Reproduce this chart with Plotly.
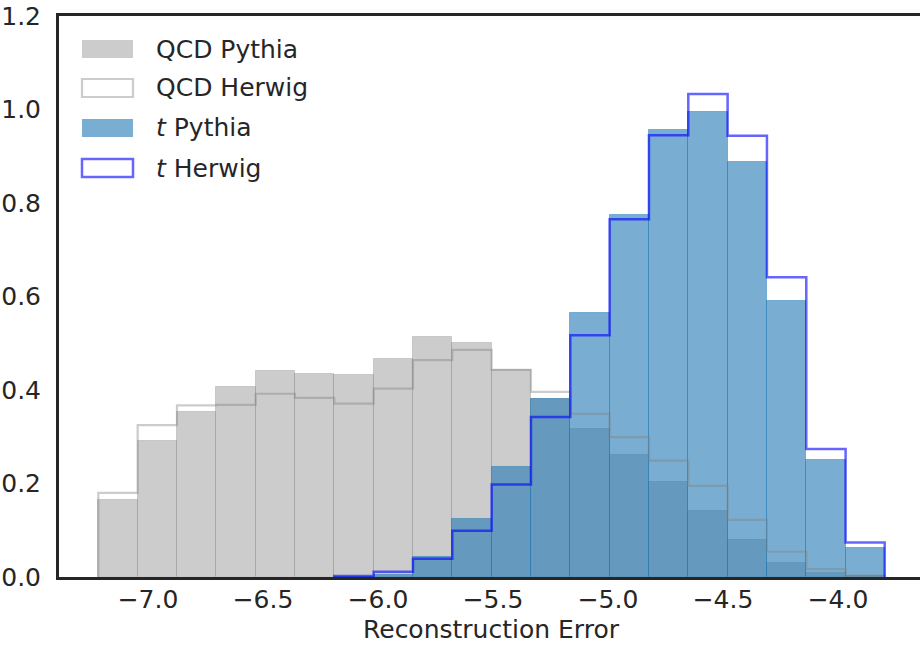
import plotly.graph_objects as go

# ---- data ----
bin_edges = [-7.216, -7.045, -6.874, -6.703, -6.532, -6.361, -6.190, -6.019,
             -5.848, -5.677, -5.506, -5.335, -5.164, -4.993, -4.822, -4.651,
             -4.480, -4.309, -4.138, -3.967, -3.797]

qcd_pythia = [0.165, 0.291, 0.354, 0.407, 0.441, 0.435, 0.433, 0.467, 0.514, 0.501,
              0.443, 0.380, 0.317, 0.261, 0.204, 0.141, 0.079, 0.031, 0.008, 0.002]
qcd_herwig = [0.180, 0.325, 0.367, 0.368, 0.392, 0.383, 0.371, 0.403, 0.464, 0.486,
              0.443, 0.396, 0.349, 0.299, 0.249, 0.195, 0.122, 0.054, 0.017, 0.003]
t_pythia = [0.0, 0.0, 0.0, 0.0, 0.0, 0.0, 0.001, 0.005, 0.043, 0.124,
            0.236, 0.381, 0.565, 0.775, 0.956, 0.994, 0.887, 0.591, 0.251, 0.062]
t_herwig = [0.0, 0.0, 0.0, 0.0, 0.0, 0.0, 0.002, 0.011, 0.039, 0.099,
            0.198, 0.342, 0.517, 0.765, 0.945, 1.033, 0.944, 0.641, 0.274, 0.074]

legend_labels = ["QCD Pythia", "QCD Herwig", "<i>t</i> Pythia", "<i>t</i> Herwig"]

x_tickvals = [-7.0, -6.5, -6.0, -5.5, -5.0, -4.5, -4.0]
x_ticktext = ["\u22127.0", "\u22126.5", "\u22126.0", "\u22125.5", "\u22125.0", "\u22124.5", "\u22124.0"]
y_tickvals = [0.0, 0.2, 0.4, 0.6, 0.8, 1.0, 1.2]
y_ticktext = ["0.0", "0.2", "0.4", "0.6", "0.8", "1.0", "1.2"]

x_label = "Reconstruction Error"

# ---- styles ----
GRAY_FILL = "rgba(128,128,128,0.4)"
GRAY_EDGE = "rgba(128,128,128,0.3)"
BLUE_FILL = "rgba(31,119,180,0.6)"
BLUE_EDGE = "rgba(31,119,180,0.45)"
GRAY_STEP = "rgba(128,128,128,0.4)"
BLUE_STEP = "rgba(0,0,255,0.6)"
TEXT = "#262626"
FONT = "DejaVu Sans"

centers = [(bin_edges[i] + bin_edges[i + 1]) / 2 for i in range(len(bin_edges) - 1)]
widths = [bin_edges[i + 1] - bin_edges[i] for i in range(len(bin_edges) - 1)]


def nonzero(vals):
    return [v if v > 0 else None for v in vals]


def step_xy(edges, vals):
    # outline of a step histogram, starting at the first non-empty bin
    first = next(i for i, v in enumerate(vals) if v > 0)
    xs, ys = [edges[first]], [0.0]
    for i in range(first, len(vals)):
        xs += [edges[i], edges[i + 1]]
        ys += [vals[i], vals[i]]
    xs.append(edges[-1])
    ys.append(0.0)
    return xs, ys


fig = go.Figure()

fig.add_trace(go.Bar(x=centers, y=nonzero(qcd_pythia), width=widths, name="QCD Pythia",
                     marker=dict(color=GRAY_FILL, line=dict(color=GRAY_EDGE, width=1)),
                     showlegend=False, hoverinfo="skip"))
sx, sy = step_xy(bin_edges, qcd_herwig)
fig.add_trace(go.Scatter(x=sx, y=sy, mode="lines", name="QCD Herwig",
                         line=dict(color=GRAY_STEP, width=2.2), showlegend=False, hoverinfo="skip"))
fig.add_trace(go.Bar(x=centers, y=nonzero(t_pythia), width=widths, name="t Pythia",
                     marker=dict(color=BLUE_FILL, line=dict(color=BLUE_EDGE, width=1)),
                     showlegend=False, hoverinfo="skip"))
sx, sy = step_xy(bin_edges, t_herwig)
fig.add_trace(go.Scatter(x=sx, y=sy, mode="lines", name="t Herwig",
                         line=dict(color=BLUE_STEP, width=2.5), showlegend=False, hoverinfo="skip"))

# ---- layout geometry (pixels) ----
W, H = 920, 645
L, R, T, B = 59, 0, 16, 68
pw, ph = W - L - R, H - T - B


def px(xp):
    return (xp - L) / pw


def py(yp):
    return (H - B - yp) / ph


# manual legend
shapes = []
annotations = []
rows = [49, 88, 128, 168]
patch_styles = [
    dict(fillcolor=GRAY_FILL, line=dict(width=0)),
    dict(fillcolor="white", line=dict(color=GRAY_STEP, width=2.2)),
    dict(fillcolor=BLUE_FILL, line=dict(width=0)),
    dict(fillcolor="white", line=dict(color=BLUE_STEP, width=2.5)),
]
for yc, lab, st in zip(rows, legend_labels, patch_styles):
    shapes.append(dict(type="rect", xref="paper", yref="paper",
                       x0=px(82), x1=px(133), y0=py(yc + 9), y1=py(yc - 9), layer="above", **st))
    annotations.append(dict(text=lab, xref="paper", yref="paper", x=px(154), y=py(yc),
                            xanchor="left", yanchor="middle", showarrow=False,
                            font=dict(family=FONT, size=25, color=TEXT)))

# x-axis title (centred on the full axis, which runs slightly past the right edge)
annotations.append(dict(text=x_label, xref="paper", yref="paper", x=px(491), y=py(629),
                        xanchor="center", yanchor="middle", showarrow=False,
                        font=dict(family=FONT, size=25, color=TEXT)))

x0 = -7.387
x1 = x0 + pw / 230.0

fig.update_layout(
    width=W, height=H,
    margin=dict(l=L, r=R, t=T, b=B, pad=0),
    paper_bgcolor="white", plot_bgcolor="white",
    barmode="overlay", bargap=0,
    font=dict(family=FONT, size=25, color=TEXT),
    shapes=shapes, annotations=annotations,
    xaxis=dict(range=[x0, x1], tickvals=x_tickvals, ticktext=x_ticktext,
               showgrid=False, zeroline=False, ticks="", ticklabelstandoff=-2,
               showline=True, linecolor=TEXT, linewidth=3, mirror=True,
               automargin=False, layer="above traces",
               tickfont=dict(size=25, color=TEXT)),
    yaxis=dict(range=[0, 1.2], tickvals=y_tickvals, ticktext=y_ticktext,
               showgrid=False, zeroline=False, ticks="", ticklabelstandoff=10,
               showline=True, linecolor=TEXT, linewidth=3, mirror=False,
               automargin=False, layer="above traces",
               tickfont=dict(size=25, color=TEXT)),
)

fig.write_html("out.html")
